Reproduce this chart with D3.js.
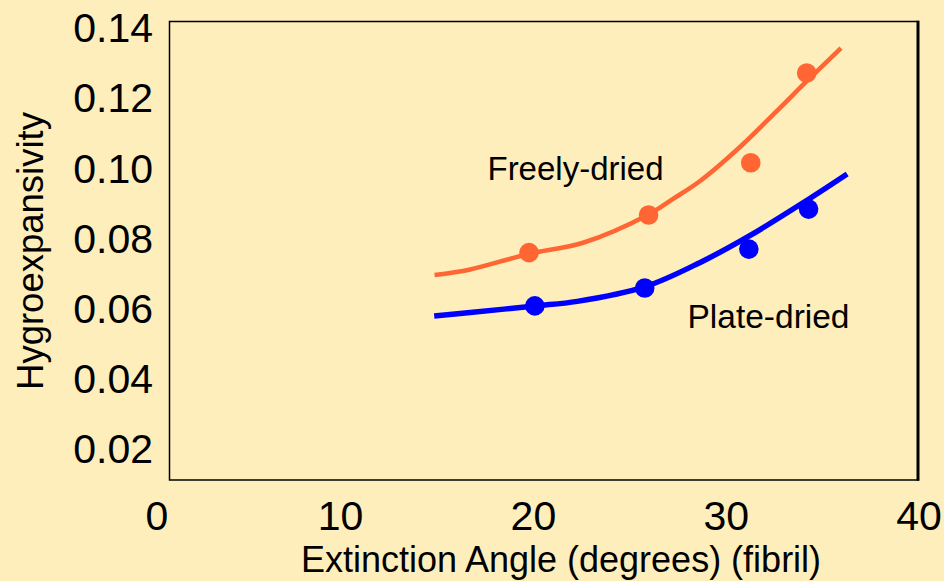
<!DOCTYPE html>
<html>
<head>
<meta charset="utf-8">
<script src="https://cdn.jsdelivr.net/npm/d3@7"></script>
<style>
  html, body { margin: 0; padding: 0; background: #FEEEBB; }
  svg { display: block; font-family: "Liberation Sans", Arial, sans-serif; }
</style>
</head>
<body>
<svg id="chart" width="944" height="581"></svg>
<script>
// ---- data ----
const xTicks = [0, 10, 20, 30, 40];
const yTicks = [0.02, 0.04, 0.06, 0.08, 0.10, 0.12, 0.14];

const freelyX = [19.8, 26.0, 31.3, 34.2];
const freelyY = [0.0757, 0.0864, 0.1013, 0.1269];
const plateX = [20.1, 25.8, 31.2, 34.3];
const plateY = [0.0605, 0.0656, 0.0767, 0.0881];

const freelyFitX = [14.9, 16.75, 19.76, 22.6, 25.98, 27.27, 28.67, 30.74, 32.66, 34.27, 35.98];
const freelyFitY = [0.0693, 0.0709, 0.0753, 0.0785, 0.0865, 0.0910, 0.0961, 0.1058, 0.1161, 0.1249, 0.1340];
const plateFitX = [14.88, 16.75, 20.1, 22.3, 25.83, 28.68, 31.27, 34.24, 36.3];
const plateFitY = [0.0576, 0.0586, 0.0605, 0.0618, 0.0660, 0.0729, 0.0806, 0.0907, 0.0981];

const xTitle = "Extinction Angle (degrees) (fibril)";
const yTitle = "Hygroexpansivity";
const freelyLabel = "Freely-dried";
const plateLabel = "Plate-dried";

// ---- drawing ----
const svg = d3.select("#chart");
const bg = "#FEEEBB";
const orange = "#FF6633";
const blue = "#0000FF";

svg.append("rect").attr("width", 944).attr("height", 581).attr("fill", bg);

const x = d3.scaleLinear().domain([0, 40]).range([147.3, 918.5]);
const y = d3.scaleLinear().domain([0.02, 0.14]).range([448, 27]);

// plot frame
const frame = { left: 169.5, top: 21.5, right: 918, bottom: 480 };
svg.append("rect")
  .attr("x", frame.left).attr("y", frame.top)
  .attr("width", frame.right - frame.left).attr("height", frame.bottom - frame.top)
  .attr("fill", bg).attr("stroke", "#000").attr("stroke-width", 1.5);
svg.append("line")
  .attr("x1", frame.right).attr("x2", frame.right)
  .attr("y1", frame.top - 0.75).attr("y2", frame.bottom + 0.75)
  .attr("stroke", "#000").attr("stroke-width", 3);

// axes (labels only)
const xAxis = d3.axisBottom(x).tickValues(xTicks).tickSize(0).tickPadding(0).tickFormat(d3.format("d"));
const gx = svg.append("g").attr("transform", "translate(0,530)").call(xAxis);
gx.select(".domain").remove();
gx.selectAll("text")
  .attr("dy", null).attr("y", 0)
  .attr("dx", d => d === 0 ? 9 : 0)
  .attr("font-size", 41).attr("fill", "#000")
  .attr("font-family", "Liberation Sans, Arial, sans-serif");

const yAxis = d3.axisLeft(y).tickValues(yTicks).tickSize(0).tickPadding(0).tickFormat(d3.format(".2f"));
const gy = svg.append("g").attr("transform", "translate(153,0)").call(yAxis);
gy.select(".domain").remove();
gy.selectAll("text")
  .attr("x", 0).attr("dy", "0.36em")
  .attr("font-size", 41).attr("fill", "#000")
  .attr("font-family", "Liberation Sans, Arial, sans-serif");

// titles
svg.append("text")
  .attr("x", 561).attr("y", 572)
  .attr("text-anchor", "middle")
  .attr("font-size", 36).attr("fill", "#000")
  .text(xTitle);
svg.append("text")
  .attr("transform", "translate(43,251) rotate(-90)")
  .attr("text-anchor", "middle")
  .attr("font-size", 36.5).attr("fill", "#000")
  .text(yTitle);

// fit curves
const line = d3.line().x(d => x(d[0])).y(d => y(d[1])).curve(d3.curveCatmullRom.alpha(0.5));
svg.append("path")
  .datum(freelyFitX.map((v, i) => [v, freelyFitY[i]]))
  .attr("d", line).attr("fill", "none")
  .attr("stroke", orange).attr("stroke-width", 4.5);
svg.append("path")
  .datum(plateFitX.map((v, i) => [v, plateFitY[i]]))
  .attr("d", line).attr("fill", "none")
  .attr("stroke", blue).attr("stroke-width", 5.5);

// points
svg.append("g").selectAll("circle")
  .data(freelyX.map((v, i) => [v, freelyY[i]]))
  .join("circle")
  .attr("cx", d => x(d[0])).attr("cy", d => y(d[1])).attr("r", 9.8)
  .attr("fill", orange);
svg.append("g").selectAll("circle")
  .data(plateX.map((v, i) => [v, plateY[i]]))
  .join("circle")
  .attr("cx", d => x(d[0])).attr("cy", d => y(d[1])).attr("r", 9.8)
  .attr("fill", blue);

// series labels
svg.append("text")
  .attr("x", 575.5).attr("y", 180)
  .attr("text-anchor", "middle")
  .attr("font-size", 33).attr("fill", "#000")
  .text(freelyLabel);
svg.append("text")
  .attr("x", 768.5).attr("y", 328)
  .attr("text-anchor", "middle")
  .attr("font-size", 33.5).attr("fill", "#000")
  .text(plateLabel);
</script>
</body>
</html>
